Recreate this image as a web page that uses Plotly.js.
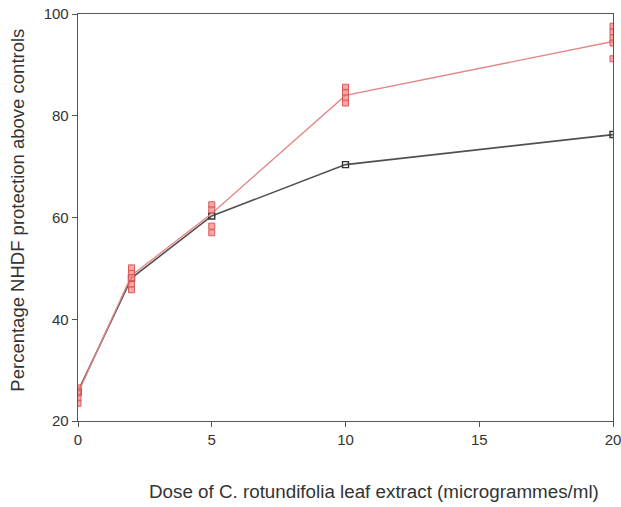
<!DOCTYPE html>
<html>
<head>
<meta charset="utf-8">
<script src="https://cdn.plot.ly/plotly-3.0.1.min.js"></script>
<style>html,body{margin:0;padding:0;background:#fff;}#chart{width:621px;height:507px;}</style>
</head>
<body>
<div id="chart"></div>
<script>
// Dose (micrograms/ml)
const doses = [0, 2, 5, 10, 20];
// Black series
const blackValues = [25.8, 48.1, 60.3, 70.4, 76.3];
// Red series mean line
const redMean = [25.5, 48.6, 60.8, 84.0, 94.6];
// Red replicate points
const repDose = [0,0,0,0, 2,2,2,2,2, 5,5,5,5, 10,10,10,10, 20,20,20,20,20];
const repValues = [26.5,25.5,24.5,23.5, 50.1,49.0,48.2,46.8,45.8, 62.5,61.5,58.3,57.0, 85.6,84.6,83.5,82.5, 97.6,96.5,95.3,94.3,91.2];
// Tick labels
const xTicks = [0, 5, 10, 15, 20];
const yTicks = [20, 40, 60, 80, 100];

const traces = [
  {x: doses, y: blackValues, mode: 'lines+markers', type: 'scatter',
   line: {color: '#505050', width: 1.6},
   marker: {symbol: 'square-open', size: 6, color: '#333', line: {width: 1.4}},
   hoverinfo: 'skip'},
  {x: doses, y: redMean, mode: 'lines', type: 'scatter',
   line: {color: '#e58484', width: 1.3}, hoverinfo: 'skip'},
  {x: repDose, y: repValues, mode: 'markers', type: 'scatter',
   marker: {symbol: 'square', size: 6, color: 'rgba(240,140,140,0.75)', line: {color: '#dd5a5a', width: 1}},
   hoverinfo: 'skip'}
];

const axisFont = {family: 'Liberation Sans, Arial, sans-serif', size: 15, color: '#333'};
const layout = {
  width: 621, height: 507,
  margin: {l: 78, r: 8, t: 14, b: 86},
  paper_bgcolor: '#fff', plot_bgcolor: '#fff',
  showlegend: false,
  xaxis: {range: [0, 20], tickvals: xTicks, ticktext: xTicks.map(String),
    showgrid: false, zeroline: false, showline: true, linecolor: '#555', linewidth: 1.3,
    mirror: true, ticks: 'outside', ticklen: 5, tickcolor: '#555', tickfont: axisFont,
    ticklabeloverflow: 'allow'},
  yaxis: {range: [20, 100], tickvals: yTicks, ticktext: yTicks.map(String),
    showgrid: false, zeroline: false, showline: true, linecolor: '#555', linewidth: 1.3,
    mirror: true, ticks: 'outside', ticklen: 5, tickcolor: '#555', tickfont: axisFont,
    ticklabeloverflow: 'allow'},
  annotations: [
    {text: 'Dose of C. rotundifolia leaf extract (microgrammes/ml)', xref: 'paper', yref: 'paper',
     x: 0.554, y: -0.174, xanchor: 'center', yanchor: 'middle', showarrow: false,
     font: {family: 'Liberation Sans, Arial, sans-serif', size: 18.8, color: '#333'}},
    {text: 'Percentage NHDF protection above controls', xref: 'paper', yref: 'paper',
     x: -0.112, y: 0.517, xanchor: 'center', yanchor: 'middle', showarrow: false, textangle: -90,
     font: {family: 'Liberation Sans, Arial, sans-serif', size: 18.5, color: '#333'}}
  ]
};

Plotly.newPlot('chart', traces, layout, {displayModeBar: false, staticPlot: true});
</script>
</body>
</html>
